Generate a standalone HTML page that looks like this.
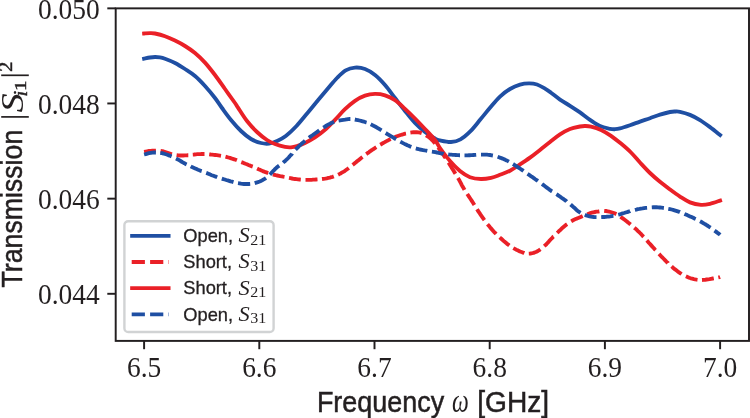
<!DOCTYPE html><html><head><meta charset="utf-8"><title>Transmission</title>
<style>html,body{margin:0;padding:0;background:#fff;overflow:hidden;}svg{display:block;will-change:transform;}text{font-family:"Liberation Sans",sans-serif;fill:#231f20;}.se{font-family:"Liberation Serif",serif;}.si{font-family:"Liberation Serif",serif;font-style:italic;}.sa{stroke:#231f20;stroke-width:0.5px;}.sb{stroke:#231f20;stroke-width:0.3px;}.sm{stroke:#231f20;stroke-width:0.45px;}</style></head><body>
<svg width="750" height="418" viewBox="0 0 750 418">
<rect x="0" y="0" width="750" height="418" fill="#ffffff"/>
<g fill="none" stroke-linejoin="round">
<path d="M144.10 58.70C145.08 58.50 148.18 57.78 150.00 57.50C151.82 57.22 153.33 57.02 155.00 57.00C156.67 56.98 158.33 57.10 160.00 57.40C161.67 57.70 162.50 57.87 165.00 58.80C167.50 59.73 171.67 61.30 175.00 63.00C178.33 64.70 181.67 66.83 185.00 69.00C188.33 71.17 191.67 73.17 195.00 76.00C198.33 78.83 201.67 82.33 205.00 86.00C208.33 89.67 212.17 94.33 215.00 98.00C217.83 101.67 219.33 104.33 222.00 108.00C224.67 111.67 227.83 116.17 231.00 120.00C234.17 123.83 237.67 127.83 241.00 131.00C244.33 134.17 247.67 137.00 251.00 139.00C254.33 141.00 258.00 142.23 261.00 143.00C264.00 143.77 266.33 143.93 269.00 143.60C271.67 143.27 274.20 142.27 277.00 141.00C279.80 139.73 282.55 138.50 285.80 136.00C289.05 133.50 292.88 129.83 296.50 126.00C300.12 122.17 303.88 117.33 307.50 113.00C311.12 108.67 314.73 104.17 318.20 100.00C321.67 95.83 325.17 91.67 328.30 88.00C331.43 84.33 334.10 80.93 337.00 78.00C339.90 75.07 342.70 72.13 345.70 70.40C348.70 68.67 351.78 67.83 355.00 67.60C358.22 67.37 361.67 67.77 365.00 69.00C368.33 70.23 371.67 72.33 375.00 75.00C378.33 77.67 381.67 81.17 385.00 85.00C388.33 88.83 391.67 93.67 395.00 98.00C398.33 102.33 401.67 106.83 405.00 111.00C408.33 115.17 411.67 119.50 415.00 123.00C418.33 126.50 421.67 129.42 425.00 132.00C428.33 134.58 432.50 137.10 435.00 138.50C437.50 139.90 437.33 139.82 440.00 140.40C442.67 140.98 447.58 142.17 451.00 142.00C454.42 141.83 457.25 141.20 460.50 139.40C463.75 137.60 467.20 134.50 470.50 131.20C473.80 127.90 477.05 123.50 480.30 119.60C483.55 115.70 486.72 111.63 490.00 107.80C493.28 103.97 496.67 99.73 500.00 96.60C503.33 93.47 506.67 91.00 510.00 89.00C513.33 87.00 516.83 85.53 520.00 84.60C523.17 83.67 526.17 83.42 529.00 83.40C531.83 83.38 534.33 83.63 537.00 84.50C539.67 85.37 542.67 87.23 545.00 88.60C547.33 89.97 548.50 90.87 551.00 92.70C553.50 94.53 556.83 97.42 560.00 99.60C563.17 101.78 566.67 103.67 570.00 105.80C573.33 107.93 576.67 110.07 580.00 112.40C583.33 114.73 586.67 117.52 590.00 119.80C593.33 122.08 596.67 124.60 600.00 126.10C603.33 127.60 607.50 128.28 610.00 128.80C612.50 129.32 613.33 129.27 615.00 129.20C616.67 129.13 617.50 129.07 620.00 128.40C622.50 127.73 626.67 126.33 630.00 125.20C633.33 124.07 636.67 122.77 640.00 121.60C643.33 120.43 646.67 119.37 650.00 118.20C653.33 117.03 656.67 115.63 660.00 114.60C663.33 113.57 667.50 112.52 670.00 112.00C672.50 111.48 673.33 111.53 675.00 111.50C676.67 111.47 677.50 111.23 680.00 111.80C682.50 112.37 686.67 113.52 690.00 114.90C693.33 116.28 696.67 118.07 700.00 120.10C703.33 122.13 706.65 124.62 710.00 127.10C713.35 129.58 718.42 133.68 720.10 135.00" stroke="#1f4fa3" stroke-width="3.85" stroke-linecap="square"/>
<path d="M144.1 151.9L145.7 151.6L147.2 151.3L148.9 151.0L150.7 150.8L152.4 150.6L154.2 150.6L155.9 150.6M160.6 151.0L162.2 151.2L163.7 151.5L165.3 152.0L166.8 152.5L168.3 153.0L169.7 153.5L171.2 154.0L172.0 154.2M176.6 155.2L178.1 155.4L179.9 155.5L181.6 155.5L183.3 155.5L185.0 155.4L186.5 155.3L188.0 155.2L188.3 155.2M192.8 154.6L194.2 154.5L195.8 154.3L197.3 154.2L198.8 154.1L200.2 154.1L201.8 154.0L203.2 154.0L204.5 154.0M209.2 154.3L210.8 154.5L212.2 154.6L213.8 154.8L215.2 155.0L216.8 155.2L218.3 155.4L219.8 155.6L221.0 155.8M225.5 156.7L227.0 157.1L228.4 157.5L229.9 157.9L231.3 158.4L232.8 158.8L234.3 159.3L235.7 159.8L236.9 160.3M241.3 162.1L242.7 162.6L244.1 163.2L245.5 163.8L246.9 164.3L248.5 165.0L250.1 165.6L251.5 166.2L252.7 166.6M257.1 168.5L258.5 169.2L259.9 169.8L261.3 170.4L262.7 171.1L264.1 171.6L265.5 172.2L267.0 172.7L268.2 173.1M272.8 174.4L274.3 174.8L275.8 175.2L277.3 175.5L278.8 175.8L280.2 176.1L281.8 176.4L283.2 176.7L284.5 176.9M289.0 177.9L290.5 178.2L292.0 178.5L293.5 178.8L295.0 179.0L296.5 179.2L298.0 179.4L299.5 179.5L300.8 179.6M305.5 179.8L307.0 179.8L308.5 179.8L310.0 179.8L311.5 179.8L313.0 179.7L314.5 179.6L316.0 179.5L317.5 179.4M322.0 179.0L323.5 178.8L325.0 178.6L326.7 178.3L328.4 177.9L329.9 177.6L331.3 177.2L332.8 176.8L333.8 176.4M338.1 174.7L339.7 173.9L341.0 173.2L342.3 172.4L343.7 171.6L345.0 170.8L346.4 169.8L347.8 168.8L348.8 168.0M352.6 164.9L353.8 164.0L355.0 163.0L356.2 162.1L357.4 161.1L358.5 160.2L359.7 159.2L360.9 158.2L362.1 157.3L362.5 157.0M366.2 154.1L367.5 153.2L368.8 152.3L370.0 151.4L371.2 150.5L372.5 149.7L373.8 148.8L375.2 147.9L376.3 147.2M380.2 144.7L381.5 144.0L382.8 143.2L384.3 142.4L385.7 141.6L387.0 140.9L388.4 140.2L389.8 139.4L390.7 139.0M394.8 137.1L396.2 136.5L397.7 136.0L399.2 135.5L400.6 135.0L402.1 134.6L403.6 134.2L405.3 133.7L406.0 133.6M410.4 132.6L411.9 132.4L413.6 132.2L415.3 132.2L416.8 132.2L418.5 132.3L420.2 132.7L421.7 133.2M426.0 135.3L427.3 136.1L428.6 137.0L429.9 138.0L431.2 139.2L432.3 140.3L433.4 141.5L434.5 142.8L435.1 143.5M438.2 147.5L439.2 148.9L440.1 150.2L441.1 151.5L442.1 152.9L442.9 154.1L443.8 155.4L444.6 156.7L445.5 158.0L445.6 158.3M448.4 162.6L449.4 164.0L450.3 165.5L451.2 166.8L452.0 168.2L452.8 169.5L453.7 170.8L454.4 172.1L455.3 173.5L455.5 173.8M458.0 178.0L458.8 179.4L459.6 180.8L460.3 182.1L461.1 183.6L461.8 185.1L462.6 186.6L463.5 188.1L464.3 189.4L464.5 189.8M467.2 194.0L468.2 195.4L469.0 196.7L469.9 198.0L470.9 199.5L471.8 200.9L472.7 202.3L473.6 203.7L474.4 205.0M477.0 209.2L477.9 210.6L478.7 211.9L479.6 213.2L480.4 214.4L481.4 215.8L482.3 217.1L483.2 218.4L484.1 219.7L484.4 220.1M487.5 224.2L488.6 225.5L489.7 226.8L490.7 228.1L491.9 229.4L492.9 230.6L494.0 231.8L495.1 232.9L496.1 234.0M499.7 237.4L501.0 238.5L502.1 239.5L503.3 240.6L504.4 241.6L505.6 242.6L506.8 243.6L508.2 244.6L509.3 245.5M513.3 248.1L514.8 248.9L516.2 249.7L517.6 250.3L519.1 251.1L520.7 251.7L522.3 252.3L523.9 252.8L524.4 253.0M528.8 253.6L530.5 253.5L532.2 253.2L533.6 252.9L535.1 252.3L536.5 251.7L537.9 251.0L539.3 250.1L540.4 249.3M544.2 246.1L545.5 245.0L546.6 244.0L547.7 242.8L548.8 241.6L549.9 240.3L551.1 239.0L552.3 237.8L553.4 236.6L553.6 236.5M557.1 232.9L558.3 231.8L559.4 230.7L560.6 229.7L561.7 228.6L562.9 227.6L564.1 226.6L565.3 225.6L566.5 224.6L567.1 224.2M571.2 221.3L572.6 220.5L574.0 219.8L575.6 219.1L577.2 218.4L578.8 217.8L580.2 217.2L581.8 216.5L582.7 216.1M587.2 214.2L588.6 213.7L590.3 213.1L591.8 212.7L593.4 212.3L595.0 212.0L596.5 211.7L598.3 211.5L599.4 211.3M604.2 210.8L606.0 211.0L607.6 211.3L609.1 211.6L610.6 212.0L612.2 212.5L613.8 213.0L615.2 213.6L616.4 214.1M620.5 216.7L621.7 217.6L623.1 218.6L624.3 219.5L625.6 220.5L626.9 221.5L628.1 222.5L629.4 223.5L630.6 224.5M634.3 227.7L635.5 228.7L636.6 229.7L637.7 230.8L638.9 231.9L640.0 233.0L641.2 234.2L642.4 235.5L643.4 236.6L643.6 236.8M646.8 240.4L647.8 241.5L648.8 242.7L649.8 243.8L650.8 244.9L651.9 246.1L652.9 247.2L653.9 248.3L654.9 249.5L655.6 250.2M659.0 253.9L660.2 255.2L661.2 256.3L662.3 257.4L663.4 258.5L664.5 259.6L665.5 260.7L666.6 261.8L667.9 263.0L668.0 263.2M671.6 266.4L672.7 267.4L673.9 268.4L675.1 269.4L676.3 270.3L677.6 271.4L679.0 272.3L680.5 273.3L681.6 274.0M685.9 276.3L687.5 277.0L689.1 277.7L690.8 278.3L692.3 278.7L693.8 279.1L695.2 279.4L696.8 279.7L697.5 279.8M702.0 280.0L703.5 279.9L705.0 279.8L706.5 279.5L708.0 279.3L709.5 279.1L711.0 278.8L712.7 278.5L713.8 278.3M718.3 277.4L719.8 277.1L720.1 277.0" stroke="#ea2027" stroke-width="3.85"/>
<path d="M144.10 33.50C145.08 33.43 148.18 33.10 150.00 33.10C151.82 33.10 152.50 32.98 155.00 33.50C157.50 34.02 161.67 35.02 165.00 36.20C168.33 37.38 171.67 38.97 175.00 40.60C178.33 42.23 181.67 43.93 185.00 46.00C188.33 48.07 191.67 50.23 195.00 53.00C198.33 55.77 201.67 58.93 205.00 62.60C208.33 66.27 211.67 70.60 215.00 75.00C218.33 79.40 221.67 84.33 225.00 89.00C228.33 93.67 232.83 99.90 235.00 103.00C237.17 106.10 236.00 104.60 238.00 107.60C240.00 110.60 243.83 116.93 247.00 121.00C250.17 125.07 253.67 128.83 257.00 132.00C260.33 135.17 264.00 138.00 267.00 140.00C270.00 142.00 272.00 142.85 275.00 144.00C278.00 145.15 282.33 146.35 285.00 146.90C287.67 147.45 289.00 147.45 291.00 147.30C293.00 147.15 294.67 146.73 297.00 146.00C299.33 145.27 302.00 144.33 305.00 142.90C308.00 141.47 311.67 139.58 315.00 137.40C318.33 135.22 321.67 132.73 325.00 129.80C328.33 126.87 331.67 123.23 335.00 119.80C338.33 116.37 341.67 112.37 345.00 109.20C348.33 106.03 351.67 103.07 355.00 100.80C358.33 98.53 361.67 96.75 365.00 95.60C368.33 94.45 371.67 93.95 375.00 93.90C378.33 93.85 381.67 94.27 385.00 95.30C388.33 96.33 391.67 97.85 395.00 100.10C398.33 102.35 401.67 105.73 405.00 108.80C408.33 111.87 411.67 115.13 415.00 118.50C418.33 121.87 421.67 125.42 425.00 129.00C428.33 132.58 432.50 136.83 435.00 140.00C437.50 143.17 437.50 144.50 440.00 148.00C442.50 151.50 446.67 157.17 450.00 161.00C453.33 164.83 456.67 168.30 460.00 171.00C463.33 173.70 466.50 175.87 470.00 177.20C473.50 178.53 477.50 178.90 481.00 179.00C484.50 179.10 487.83 178.50 491.00 177.80C494.17 177.10 496.83 175.98 500.00 174.80C503.17 173.62 506.67 172.43 510.00 170.70C513.33 168.97 516.67 166.58 520.00 164.40C523.33 162.22 526.67 160.02 530.00 157.60C533.33 155.18 536.67 152.50 540.00 149.90C543.33 147.30 546.67 144.58 550.00 142.00C553.33 139.42 556.67 136.57 560.00 134.40C563.33 132.23 566.67 130.32 570.00 129.00C573.33 127.68 577.50 127.00 580.00 126.50C582.50 126.00 583.17 125.98 585.00 126.00C586.83 126.02 588.33 125.95 591.00 126.60C593.67 127.25 597.67 128.37 601.00 129.90C604.33 131.43 607.67 133.52 611.00 135.80C614.33 138.08 617.67 140.82 621.00 143.60C624.33 146.38 627.83 149.35 631.00 152.50C634.17 155.65 636.83 159.08 640.00 162.50C643.17 165.92 646.67 169.78 650.00 173.00C653.33 176.22 656.67 179.05 660.00 181.80C663.33 184.55 666.67 187.03 670.00 189.50C673.33 191.97 676.67 194.45 680.00 196.60C683.33 198.75 686.50 201.03 690.00 202.40C693.50 203.77 697.67 204.57 701.00 204.80C704.33 205.03 706.82 204.50 710.00 203.80C713.18 203.10 718.42 201.13 720.10 200.60" stroke="#ea2027" stroke-width="3.85" stroke-linecap="square"/>
<path d="M144.1 154.5L145.7 154.1L147.4 153.6L149.0 153.2L150.8 152.9L152.5 152.6L154.2 152.5L155.9 152.5M160.3 152.9L161.9 153.2L163.4 153.5L165.0 154.0L166.7 154.5L168.1 155.1L169.6 155.6L171.1 156.3L171.6 156.5M176.0 158.5L177.4 159.2L178.7 159.9L180.0 160.7L181.3 161.5L182.8 162.4L184.3 163.2L185.7 164.0L186.6 164.4M190.7 166.4L192.0 167.1L193.6 167.8L195.2 168.5L196.6 169.1L198.0 169.7L199.4 170.2L201.0 170.9L201.7 171.1M206.2 172.9L207.6 173.4L209.0 174.0L210.3 174.6L211.7 175.2L213.4 175.8L215.0 176.4L216.5 176.9L217.2 177.2M221.8 178.6L223.3 179.1L224.8 179.5L226.2 180.0L227.7 180.4L229.1 180.8L230.6 181.3L232.1 181.7L233.5 182.1M238.0 183.1L239.5 183.3L241.0 183.6L242.5 183.8L244.0 184.0L245.5 184.0L247.2 184.0L249.0 184.0L250.2 183.9M254.7 183.1L256.3 182.6L257.9 182.1L259.6 181.5L261.0 180.9L262.4 180.2L263.7 179.4L265.1 178.6L266.0 178.0M269.8 174.6L270.9 173.5L272.0 172.3L273.0 171.2L274.1 170.1L275.1 169.0L276.4 167.8L277.6 166.8L278.8 165.9L279.2 165.6M283.1 162.7L284.2 161.7L285.4 160.7L286.5 159.7L287.7 158.5L288.9 157.2L289.9 156.0L291.0 154.9L292.0 153.7L292.1 153.5M295.5 149.7L296.8 148.4L297.9 147.3L299.0 146.2L300.1 145.2L301.2 144.2L302.5 143.0L303.8 141.9L305.1 140.8M308.9 137.8L310.1 136.9L311.3 136.0L312.8 135.0L314.2 134.0L315.6 133.0L316.9 132.1L318.1 131.2L319.3 130.3M323.3 127.6L324.6 126.8L325.9 126.0L327.2 125.2L328.6 124.4L330.0 123.7L331.3 123.0L332.7 122.4L334.1 121.8M338.6 120.6L340.2 120.3L341.7 120.1L343.4 119.9L345.0 119.7L346.6 119.4L348.1 119.1L349.7 119.0L350.4 119.0M354.8 119.5L356.3 119.8L357.9 120.1L359.5 120.5L361.1 120.9L362.6 121.3L364.1 121.7L365.8 122.3L366.6 122.5M370.7 124.3L372.3 125.1L373.6 125.8L375.0 126.5L376.5 127.3L377.8 128.1L379.1 128.9L380.4 129.7L381.5 130.4M385.7 133.0L387.0 133.8L388.3 134.6L389.6 135.4L390.9 136.2L392.2 136.9L393.5 137.7L394.8 138.5L396.1 139.2M400.3 141.7L401.7 142.4L403.0 143.1L404.6 143.9L405.9 144.5L407.3 145.2L408.7 145.8L410.1 146.4L411.3 146.9M415.8 148.4L417.3 148.8L418.8 149.2L420.2 149.5L421.8 149.8L423.2 150.1L424.8 150.4L426.3 150.6L427.3 150.8M431.9 151.6L433.5 151.8L435.4 152.2L436.9 152.5L438.5 152.9L440.0 153.2L441.7 153.5L443.4 153.7L443.6 153.8M448.2 154.4L449.7 154.6L451.2 154.7L452.8 154.8L454.2 154.9L455.8 155.0L457.2 155.1L458.8 155.2L460.0 155.2M464.5 155.3L466.0 155.3L467.5 155.3L469.0 155.2L470.5 155.2L472.0 155.1L473.5 155.0L475.0 154.9L476.2 154.8M481.0 154.6L482.5 154.6L484.0 154.6L485.5 154.6L487.0 154.7L488.5 154.8L490.0 155.0L491.7 155.3L492.9 155.5M497.6 156.8L499.0 157.3L500.5 157.8L502.0 158.4L503.6 159.0L505.2 159.8L506.6 160.4L508.0 161.1L508.9 161.6M513.0 164.0L514.3 164.8L515.5 165.6L516.8 166.5L518.1 167.3L519.4 168.2L520.6 169.0L521.9 169.9L523.1 170.7L523.5 171.0M527.5 173.8L528.8 174.6L530.0 175.5L531.2 176.4L532.5 177.2L533.8 178.1L535.0 179.0L536.2 179.8L537.5 180.7L537.9 181.0M542.0 184.0L543.2 184.9L544.4 185.8L545.6 186.7L546.8 187.6L548.0 188.5L549.4 189.6L550.6 190.4L551.9 191.3L552.1 191.4M556.4 194.2L557.7 195.0L558.9 195.9L560.2 196.7L561.6 197.8L562.9 198.6L564.1 199.5L565.3 200.4L566.5 201.3L566.7 201.5M570.6 204.5L571.7 205.5L572.9 206.5L574.0 207.6L575.2 208.6L576.3 209.7L577.5 210.7L578.8 211.7L580.2 212.6L580.5 212.8M584.8 214.8L586.2 215.4L587.9 215.9L589.5 216.3L591.0 216.6L592.5 216.8L594.0 217.0L595.5 217.1L596.5 217.1M601.2 217.1L602.8 217.0L604.2 217.0L605.8 216.9L607.2 216.7L608.8 216.6L610.2 216.4L611.8 216.1L613.3 215.8L613.5 215.8M618.2 214.7L619.8 214.3L621.2 213.9L622.7 213.4L624.1 213.0L625.6 212.5L627.1 212.1L628.5 211.6L630.0 211.2L630.2 211.1M634.9 209.9L636.3 209.6L637.8 209.2L639.5 208.9L641.0 208.6L642.5 208.4L644.1 208.1L645.6 207.9L647.1 207.8M651.8 207.3L653.4 207.2L655.0 207.2L656.5 207.2L658.2 207.3L659.8 207.5L661.5 207.7L663.1 207.9L663.9 208.0M668.3 208.8L670.0 209.1L671.6 209.5L673.1 209.9L674.5 210.3L676.2 210.8L677.8 211.3L679.3 211.8L680.0 212.1M684.4 213.9L685.8 214.5L687.2 215.1L688.6 215.8L690.0 216.4L691.6 217.1L693.2 217.8L694.5 218.5L695.7 219.0M700.0 221.2L701.5 222.0L702.8 222.8L704.1 223.6L705.4 224.3L706.7 225.2L708.0 226.0L709.3 226.9L710.6 227.7M714.5 230.6L715.9 231.6L717.2 232.6L718.6 233.6L719.8 234.5L720.1 234.8" stroke="#1f4fa3" stroke-width="3.85"/>
</g>
<rect x="115.7" y="8.35" width="633.30" height="332.55" stroke="#231f20" stroke-width="1.95" fill="none"/>
<g stroke="#231f20" stroke-width="1.95" stroke-linecap="butt">
<line x1="107.3" y1="8.35" x2="115.7" y2="8.35"/>
<line x1="107.3" y1="103.45" x2="115.7" y2="103.45"/>
<line x1="107.3" y1="198.65" x2="115.7" y2="198.65"/>
<line x1="107.3" y1="293.8" x2="115.7" y2="293.8"/>
<line x1="144.10" y1="340.9" x2="144.10" y2="349.2"/>
<line x1="259.30" y1="340.9" x2="259.30" y2="349.2"/>
<line x1="374.50" y1="340.9" x2="374.50" y2="349.2"/>
<line x1="489.70" y1="340.9" x2="489.70" y2="349.2"/>
<line x1="604.90" y1="340.9" x2="604.90" y2="349.2"/>
<line x1="720.10" y1="340.9" x2="720.10" y2="349.2"/>
</g>
<text class="se" transform="translate(99.70 18.95) scale(0.9670 1)" font-size="28.4" text-anchor="end">0.050</text>
<text class="se" transform="translate(99.70 114.05) scale(0.9670 1)" font-size="28.4" text-anchor="end">0.048</text>
<text class="se" transform="translate(99.70 209.25) scale(0.9670 1)" font-size="28.4" text-anchor="end">0.046</text>
<text class="se" transform="translate(99.70 304.40) scale(0.9670 1)" font-size="28.4" text-anchor="end">0.044</text>
<text class="se" transform="translate(144.10 377.30) scale(0.9670 1)" font-size="28.4" text-anchor="middle">6.5</text>
<text class="se" transform="translate(259.30 377.30) scale(0.9670 1)" font-size="28.4" text-anchor="middle">6.6</text>
<text class="se" transform="translate(374.50 377.30) scale(0.9670 1)" font-size="28.4" text-anchor="middle">6.7</text>
<text class="se" transform="translate(489.70 377.30) scale(0.9670 1)" font-size="28.4" text-anchor="middle">6.8</text>
<text class="se" transform="translate(604.90 377.30) scale(0.9670 1)" font-size="28.4" text-anchor="middle">6.9</text>
<text class="se" transform="translate(720.10 377.30) scale(0.9670 1)" font-size="28.4" text-anchor="middle">7.0</text>
<text class="sa" transform="translate(316.90 411.90) scale(0.9430 1)" font-size="28.6">Frequency</text>
<text class="si" transform="translate(452.00 411.70) scale(0.7200 1)" font-size="33.0">ω</text>
<text class="sa" transform="translate(477.20 411.90) scale(0.9850 1)" font-size="28.6">[GHz]</text>
<text class="sa" transform="translate(21.60 287.50) rotate(-90) scale(0.9340 1)" font-size="28.6">Transmission</text>
<line x1="1.2" y1="116.9" x2="28.8" y2="116.9" stroke="#231f20" stroke-width="1.7"/>
<text class="si" transform="translate(22.80 112.50) rotate(-90) scale(1.2000 1)" font-size="32.0">S</text>
<text class="si sm" transform="translate(26.70 96.60) rotate(-90) scale(1.1500 1)" font-size="18.0">i</text>
<text class="se sm" transform="translate(26.40 91.00) rotate(-90) scale(1.2000 1)" font-size="17.6">1</text>
<line x1="1.2" y1="75.3" x2="28.8" y2="75.3" stroke="#231f20" stroke-width="1.7"/>
<text class="se sm" transform="translate(12.00 72.00) rotate(-90) scale(1.1500 1)" font-size="18.2">2</text>
<rect x="124.4" y="221.2" width="149.2" height="110.8" rx="3.8" ry="3.8" fill="#ffffff" fill-opacity="0.8" stroke="#d1d3d4" stroke-width="2.4"/>
<line x1="132.1" y1="235.8" x2="168.6" y2="235.8" stroke="#1f4fa3" stroke-width="3.85" stroke-linecap="square"/>
<text class="sb" transform="translate(183.30 241.80) scale(1.0150 1)" font-size="18.0">Open,</text>
<text class="si" transform="translate(238.60 242.00) scale(1.1000 1)" font-size="20.4">S</text>
<text class="se" transform="translate(250.20 244.70) scale(1.1000 1)" font-size="14.6">21</text>
<line x1="131.7" y1="262.0" x2="168.9" y2="262.0" stroke="#ea2027" stroke-width="3.85" stroke-dasharray="13.2 5.2"/>
<text class="sb" transform="translate(183.30 268.05) scale(1.0150 1)" font-size="18.0">Short,</text>
<text class="si" transform="translate(238.60 268.25) scale(1.1000 1)" font-size="20.4">S</text>
<text class="se" transform="translate(250.20 270.95) scale(1.1000 1)" font-size="14.6">31</text>
<line x1="132.1" y1="288.1" x2="168.6" y2="288.1" stroke="#ea2027" stroke-width="3.85" stroke-linecap="square"/>
<text class="sb" transform="translate(183.30 294.30) scale(1.0150 1)" font-size="18.0">Short,</text>
<text class="si" transform="translate(238.60 294.50) scale(1.1000 1)" font-size="20.4">S</text>
<text class="se" transform="translate(250.20 297.20) scale(1.1000 1)" font-size="14.6">21</text>
<line x1="131.7" y1="314.3" x2="168.9" y2="314.3" stroke="#1f4fa3" stroke-width="3.85" stroke-dasharray="13.2 5.2"/>
<text class="sb" transform="translate(183.30 320.55) scale(1.0150 1)" font-size="18.0">Open,</text>
<text class="si" transform="translate(238.60 320.75) scale(1.1000 1)" font-size="20.4">S</text>
<text class="se" transform="translate(250.20 323.45) scale(1.1000 1)" font-size="14.6">31</text>
</svg></body></html>
